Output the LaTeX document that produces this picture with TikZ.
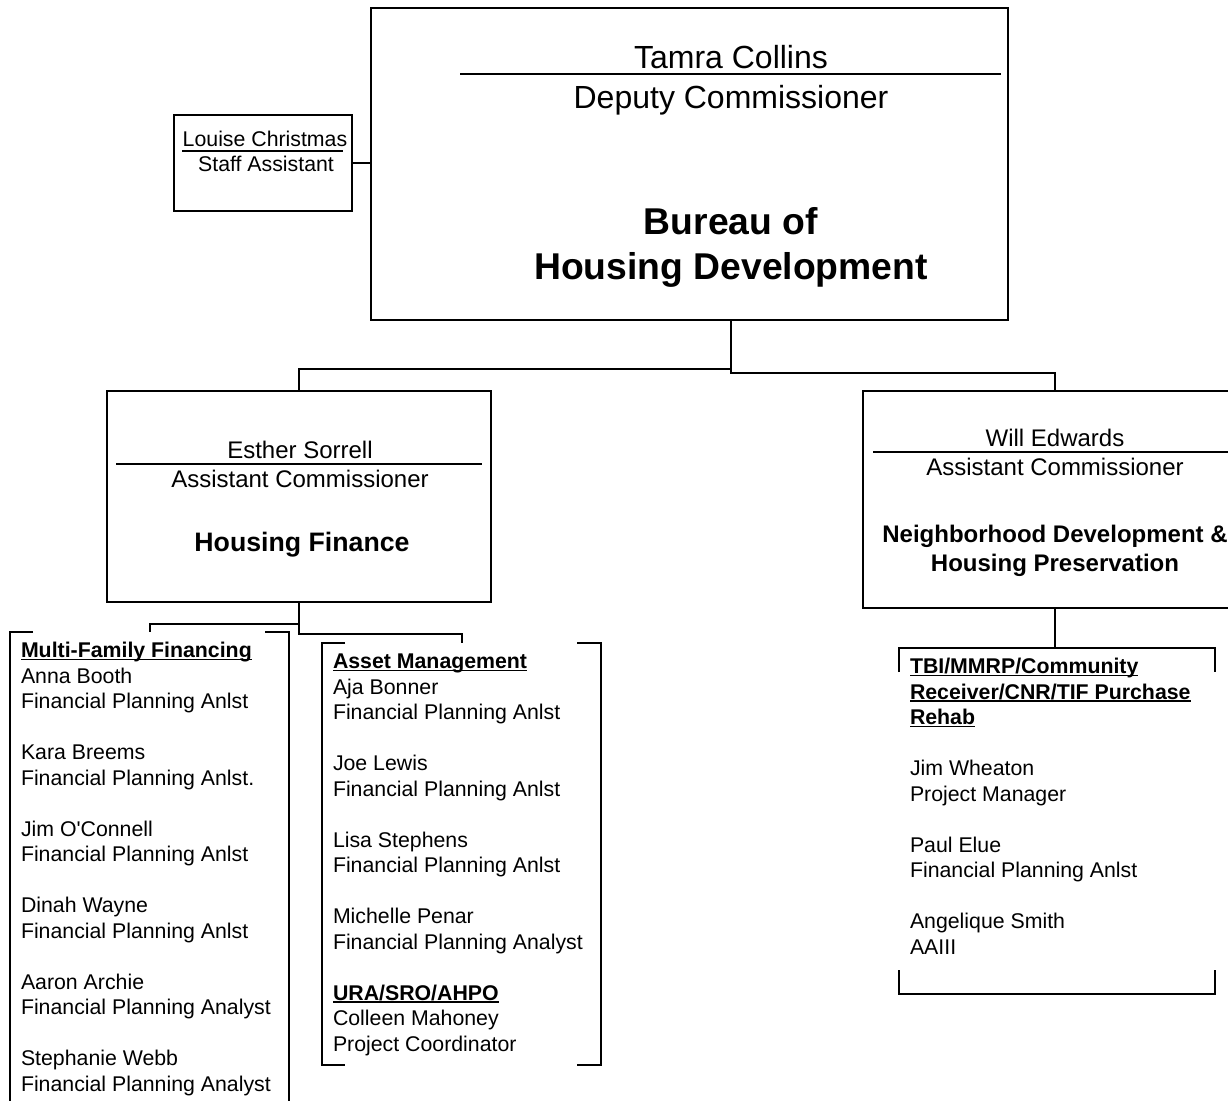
\documentclass[tikz,border=0pt]{standalone}
\usepackage{fontspec}
\setmainfont{Liberation Sans}
\usepackage{tikz}
\usetikzlibrary{calc}
\newcommand{\ulhead}[1]{\setbox0=\hbox{#1}\rlap{\rule[-2.6pt]{\wd0}{1.5pt}}\box0}
\tikzstyle{office} = [rectangle, draw=black, line width=2pt, inner sep=0pt]
\tikzstyle{teambox} = [rectangle, inner sep=0pt, anchor=north west]
\tikzstyle{nameline} = [line width=1.5pt]
\tikzstyle{bigname} = [font=\fontsize{32}{38}\selectfont, anchor=base, inner sep=0pt]
\tikzstyle{midname} = [font=\fontsize{24}{29}\selectfont, anchor=base, inner sep=0pt]
\tikzstyle{smallname} = [font=\fontsize{21.3}{25.5}\selectfont, anchor=base, inner sep=0pt]
\tikzstyle{bureauname} = [font=\bfseries\fontsize{37.3}{45}\selectfont, anchor=base, inner sep=0pt]
\tikzstyle{unitname} = [font=\bfseries\fontsize{26.7}{32}\selectfont, anchor=base, inner sep=0pt]
\tikzstyle{unitname2} = [font=\bfseries\fontsize{24}{29}\selectfont, anchor=base, inner sep=0pt]
\tikzstyle{staff} = [font=\fontsize{21.3}{25.5}\selectfont, align=left, anchor=base west, inner sep=0pt]

\begin{document}
\begin{tikzpicture}[x=1pt, y=-1pt, line width=2pt]
	\useasboundingbox (0,0) rectangle (1228,1100);
	% boxes
	\node (bureau) [office, minimum width=637pt, minimum height=312pt] at (689.5,164) {};
	\node (louise) [office, minimum width=178pt, minimum height=96pt] at (263,163) {};
	\node (esther) [office, minimum width=384pt, minimum height=211pt] at (299,496.5) {};
	\node (will) [office, minimum width=384pt, minimum height=217pt] at (1055,499.5) {};
	\node (mff) [teambox, minimum width=277pt, minimum height=473pt] at (10,632) {};
	\node (asset) [teambox, minimum width=277pt, minimum height=420pt] at (322,643) {};
	\node (tbi) [teambox, minimum width=314pt, minimum height=344pt] at (899,648) {};
	
	% texts
	\node (tamra) [bigname] at (731,68.5) {Tamra Collins};
	\node (deputy) [bigname] at (731,108.5) {Deputy Commissioner};
	\node (bureautitle) [bureauname] at (731,234) {Bureau of};
	\node (bureautitle2) [bureauname] at (731,279) {Housing Development};
	\draw [nameline] (460,74) -- (1001,74);
	
	\node (louisename) [smallname] at (265,146) {Louise Christmas};
	\node (louisejob) [smallname] at (266,171) {Staff Assistant};
	\draw [nameline] (182,151) -- (343,151);
	
	\node (esthername) [midname] at (300,458) {Esther Sorrell};
	\node (estherjob) [midname] at (300,487) {Assistant Commissioner};
	\node (esthertitle) [unitname] at (302,551) {Housing Finance};
	\draw [nameline] (116,464) -- (482,464);
	
	\node (willname) [midname] at (1055,446) {Will Edwards};
	\node (willjob) [midname] at (1055,475) {Assistant Commissioner};
	\node (willtitle) [unitname2] at (1055,542) {Neighborhood Development \&};
	\node (willtitle2) [unitname2] at (1055,571) {Housing Preservation};
	\draw [nameline] (873,452) -- (1240,452);
	
	% lists (anchored at the baseline of the last line)
	\node (mfflist) [staff] at (20,1091.1) {\textbf{\ulhead{Multi-Family Financing}}\\ Anna Booth\\ Financial Planning Anlst\\[25.5pt]
		Kara Breems\\ Financial Planning Anlst.\\[25.5pt] Jim O\textquotesingle Connell\\ Financial Planning Anlst\\[25.5pt]
		Dinah Wayne\\ Financial Planning Anlst\\[25.5pt] Aaron Archie\\ Financial Planning Analyst\\[25.5pt]
		Stephanie Webb\\ Financial Planning Analyst};
	\node (assetlist) [staff] at (332,1051.1) {\textbf{\ulhead{Asset Management}}\\ Aja Bonner\\ Financial Planning Anlst\\[25.5pt]
		Joe Lewis\\ Financial Planning Anlst\\[25.5pt] Lisa Stephens\\ Financial Planning Anlst\\[25.5pt]
		Michelle Penar\\ Financial Planning Analyst\\[25.5pt] \textbf{\ulhead{URA/SRO/AHPO}}\\ Colleen Mahoney\\ Project Coordinator};
	\node (tbilist) [staff] at (909,954.1) {\textbf{\ulhead{TBI/MMRP/Community}}\\ \textbf{\ulhead{Receiver/CNR/TIF Purchase}}\\ \textbf{\ulhead{Rehab}}\\[25.5pt]
		Jim Wheaton\\ Project Manager\\[25.5pt] Paul Elue\\ Financial Planning Anlst\\[25.5pt]
		Angelique Smith\\ AAIII};
	
	% brackets
	\draw ([xshift=23pt]mff.north west) -- (mff.north west) -- (mff.south west);
	\draw ([xshift=-24pt]mff.north east) -- (mff.north east) -- (mff.south east);
	\draw ([xshift=23pt]asset.north west) -- (asset.north west) -- (asset.south west) -- ++(23,0);
	\draw ([xshift=-24pt]asset.north east) -- (asset.north east) -- (asset.south east) -- ++(-24,0);
	\draw ([yshift=-24pt]tbi.north west) -- (tbi.north west) -- (tbi.north east) -- ++(0,24);
	\draw ([yshift=24pt]tbi.south west) -- (tbi.south west) -- (tbi.south east) -- ++(0,-24);
	
	% connectors
	\coordinate (hub) at ([xshift=41.5pt]bureau.south);
	\draw (hub) -- ++(0,48) -| (esther.north);
	\draw (hub) -- ++(0,52) -| (will.north);
	\draw (louise.east) -- (louise.east -| bureau.west);
	\draw (esther.south) -- ++(0,31) -| (asset.north);
	\draw ([yshift=-21pt]esther.south) -| (mff.north);
	\draw (will.south) -- (will.south |- tbi.north);
\end{tikzpicture}
\end{document}
